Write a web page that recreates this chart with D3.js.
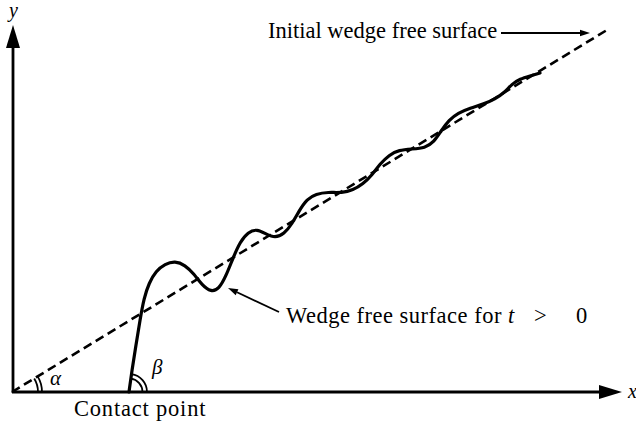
<!DOCTYPE html>
<html>
<head>
<meta charset="utf-8">
<script src="https://cdn.jsdelivr.net/npm/d3@7"></script>
<style>
  html, body { margin: 0; padding: 0; background: #fff; }
  svg { display: block; }
  text { font-family: "Liberation Serif", "DejaVu Serif", serif; fill: #000; }
</style>
</head>
<body>
<svg id="chart" width="636" height="426"></svg>
<script>
// ---- data (in chart units: origin at the axes corner) ----
const axisExtentX = [0, 610];
const axisExtentY = [0, 370];
const initialSurface = [[0, 0], [595, 362]];
const surfaceX = [117, 120, 124, 128, 132, 137, 144, 153, 163, 173, 182, 190, 199, 207, 214, 221, 228, 236, 245, 254, 263, 272, 280, 287, 295, 304, 316, 330, 341, 351, 360, 368, 377, 387, 400, 413, 422, 429, 437, 446, 458, 472, 483, 492, 500, 508, 518, 528];
const surfaceY = [0, 22, 47, 72, 94, 109, 121, 128, 131, 127, 118, 107, 100, 103, 116, 134, 150, 160, 163, 158, 154, 158, 168, 181, 193, 198, 200, 199, 202, 208, 217, 228, 237, 242, 243, 244, 250, 261, 272, 279, 284, 288, 293, 299, 308, 313, 316, 319];
const labels = {
  initial: "Initial wedge free surface",
  later: "Wedge free surface for",
  contact: "Contact point"
};

const svg = d3.select("#chart");
const x = d3.scaleLinear().domain(axisExtentX).range([12, 622]);
const y = d3.scaleLinear().domain(axisExtentY).range([392, 22]);

// axes
const x0 = x(0), y0 = y(0);
svg.append("line").attr("x1", x0).attr("y1", y0).attr("x2", x(590)).attr("y2", y0)
  .attr("stroke", "#000").attr("stroke-width", 2.8);
svg.append("line").attr("x1", x0 + 1).attr("y1", y0 + 1).attr("x2", x0 + 1).attr("y2", y(350))
  .attr("stroke", "#000").attr("stroke-width", 2.8);
// arrowheads
const xt = x(axisExtentX[1]);
svg.append("path").attr("d", `M${xt},${y0} L${xt - 23},${y0 - 7} L${xt - 23},${y0 + 7} Z`).attr("fill", "#000");
const yt = y(axisExtentY[1]) + 3;
svg.append("path").attr("d", `M${x0 + 1},${yt} L${x0 - 6},${yt + 23} L${x0 + 8},${yt + 23} Z`).attr("fill", "#000");

svg.append("text").attr("x", 9).attr("y", 17).attr("font-style", "italic").attr("font-size", 20).text("y");
svg.append("text").attr("x", 628).attr("y", 398).attr("font-style", "italic").attr("font-size", 20).text("x");

// dashed initial surface
const line = d3.line().x(d => x(d[0])).y(d => y(d[1]));
svg.append("path").datum(initialSurface).attr("d", line)
  .attr("fill", "none").attr("stroke", "#000").attr("stroke-width", 2.6).attr("stroke-dasharray", "9,5");

// wavy free surface
const surface = surfaceX.map((v, i) => [v, surfaceY[i]]);
svg.append("path").datum(surface)
  .attr("d", d3.line().x(d => x(d[0])).y(d => y(d[1])).curve(d3.curveBasis))
  .attr("fill", "none").attr("stroke", "#000").attr("stroke-width", 3.2).attr("stroke-linecap", "round");

// angle arcs
const alphaAng = Math.atan2(initialSurface[1][1], initialSurface[1][0]);
[26, 30].forEach(r => {
  svg.append("path").attr("d", d3.arc()({innerRadius: r, outerRadius: r, startAngle: Math.PI / 2 - alphaAng, endAngle: Math.PI / 2}))
    .attr("transform", `translate(${x0},${y0})`).attr("fill", "none").attr("stroke", "#000").attr("stroke-width", 1.8);
});
const cx = x(surfaceX[0]);
const betaAng = Math.atan2(surfaceY[1] - surfaceY[0], surfaceX[1] - surfaceX[0]);
[13.5, 18].forEach(r => {
  svg.append("path").attr("d", d3.arc()({innerRadius: r, outerRadius: r, startAngle: Math.PI / 2 - betaAng, endAngle: Math.PI / 2}))
    .attr("transform", `translate(${cx},${y0})`).attr("fill", "none").attr("stroke", "#000").attr("stroke-width", 1.8);
});
svg.append("text").attr("x", 50).attr("y", 385).attr("font-style", "italic").attr("font-size", 21).text("α");
svg.append("text").attr("x", 152).attr("y", 374).attr("font-style", "italic").attr("font-size", 21).text("β");

// labels
const fs = 22.5;
svg.append("text").attr("x", 74).attr("y", 416).attr("font-size", fs).attr("letter-spacing", 0.8).text(labels.contact);
svg.append("text").attr("x", 268).attr("y", 38).attr("font-size", fs).text(labels.initial);
const t2 = svg.append("text").attr("y", 323).attr("font-size", fs);
t2.append("tspan").attr("x", 286).attr("letter-spacing", 0.5).text(labels.later);
t2.append("tspan").attr("x", 508).attr("font-style", "italic").text("t");
t2.append("tspan").attr("x", 534).text(">");
t2.append("tspan").attr("x", 576).text("0");

// pointer arrows
function pointer(x1, y1, x2, y2) {
  const a = Math.atan2(y2 - y1, x2 - x1), L = 10, W = 3.2;
  const bx = x2 - L * Math.cos(a), by = y2 - L * Math.sin(a);
  svg.append("line").attr("x1", x1).attr("y1", y1).attr("x2", bx).attr("y2", by)
    .attr("stroke", "#000").attr("stroke-width", 1.8);
  svg.append("path").attr("d", `M${x2},${y2} L${bx - W * Math.sin(a)},${by + W * Math.cos(a)} L${bx + W * Math.sin(a)},${by - W * Math.cos(a)} Z`)
    .attr("fill", "#000");
}
pointer(501, 33, 590, 33);
pointer(279, 312, 228, 288);
</script>
</body>
</html>
